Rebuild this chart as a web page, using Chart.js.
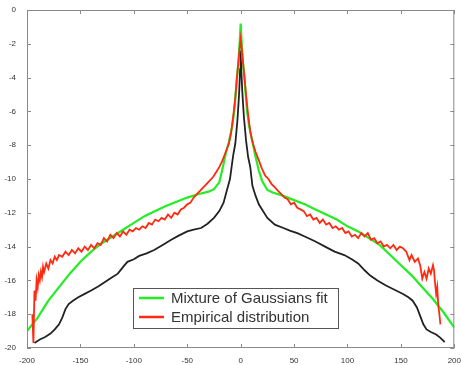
<!DOCTYPE html>
<html lang="en">
<head>
   <meta charset="UTF-8">
   <title>Mixture of Gaussians fit</title>
   <script src="https://cdn.jsdelivr.net/npm/chart.js"></script>
   <style>
      body { margin: 0; background: #fff; }
   </style>
</head>
<body>
   <canvas id="distChart" width="461" height="365"></canvas>

   <script>
      // axis ticks
      const xTicks = [-200, -150, -100, -50, 0, 50, 100, 150, 200];
      const yTicks = [0, -2, -4, -6, -8, -10, -12, -14, -16, -18, -20];

      // Mixture of Gaussians fit (green)
      const fitX = [-200, -190, -180, -170, -160, -150, -140, -130, -120, -110, -100, -90, -80, -70, -60, -50, -40, -30, -25, -20, -17, -14, -11, -8, -6, -4, -2, -1, 0,
                    1, 2, 4, 6, 8, 11, 14, 17, 20, 25, 30, 40, 50, 60, 70, 80, 90, 100, 110, 120, 130, 140, 150, 160, 170, 180, 190, 200];
      const fitY = [-19.0, -18.2, -17.2, -16.4, -15.6, -14.9, -14.3, -13.8, -13.4, -13.0, -12.6, -12.2, -11.9, -11.6, -11.35, -11.1, -10.9, -10.75, -10.6, -10.2, -9.4, -8.5, -7.8, -6.9, -6.0, -4.4, -3.0, -2.0, -0.8,
                    -2.0, -3.0, -4.4, -6.0, -6.9, -7.8, -8.7, -9.5, -10.1, -10.65, -10.8, -11.0, -11.25, -11.5, -11.8, -12.1, -12.4, -12.8, -13.1, -13.5, -13.9, -14.5, -15.1, -15.7, -16.4, -17.1, -17.9, -18.8];

      // Empirical distribution (red)
      const empX = [-195, -194, -193, -192, -191, -190, -189, -188, -187, -186, -185, -184, -182, -180, -178, -176, -174, -172, -170, -167, -164, -161, -158, -155, -152, -149, -146, -143, -140, -137, -134, -131, -128, -125, -122, -119, -116, -113, -110, -107, -104, -101, -98, -95, -92, -89, -86, -83, -80, -77, -74, -71, -68, -65, -62, -59, -56, -53, -50, -47, -44, -41, -38, -35, -32, -29, -26, -23, -20, -17, -14, -11, -9, -7, -5, -3.5, -2, -1, 0,
                    1, 2, 3.5, 5, 7, 9, 11, 14, 17, 20, 23, 26, 29, 32, 35, 38, 41, 44, 47, 50, 53, 56, 59, 62, 65, 68, 71, 74, 77, 80, 83, 86, 89, 92, 95, 98, 101, 104, 107, 110, 113, 116, 119, 122, 125, 128, 131, 134, 137, 140, 143, 146, 149, 152, 155, 158, 160, 163, 166, 168, 170, 172, 174, 176, 178, 180, 181, 182, 183, 184, 185, 186, 187];
      const empY = [-18.0, -19.7, -16.6, -17.2, -16.0, -16.4, -15.7, -16.0, -15.5, -15.8, -15.2, -15.5, -15.0, -15.3, -14.8, -15.0, -14.6, -14.8, -14.5, -14.6, -14.3, -14.5, -14.2, -14.4, -14.1, -14.3, -14.0, -14.2, -13.9, -14.1, -13.8, -13.9, -13.5, -13.7, -13.3, -13.5, -13.2, -13.4, -13.1, -13.3, -13.0, -13.1, -12.9, -13.0, -12.8, -12.9, -12.6, -12.7, -12.4, -12.5, -12.3, -12.4, -12.1, -12.3, -12.0, -12.1, -11.8, -11.7, -11.5, -11.4, -11.1, -10.9, -10.7, -10.5, -10.3, -10.1, -9.9, -9.6, -9.3, -8.9, -8.4, -7.9, -7.3, -6.3, -5.2, -4.0, -3.0, -2.3, -1.7,
                    -2.3, -3.0, -3.9, -5.0, -6.2, -7.2, -7.8, -8.4, -8.9, -9.4, -9.8, -10.0, -10.3, -10.5, -10.7, -10.9, -11.1, -11.2, -11.5, -11.4, -11.7, -11.8, -11.9, -12.2, -12.1, -12.4, -12.3, -12.6, -12.4, -12.7, -12.6, -12.9, -12.8, -13.0, -12.9, -13.2, -13.1, -13.4, -13.3, -13.5, -13.2, -13.4, -13.2, -13.6, -13.5, -13.8, -13.7, -14.0, -13.9, -14.1, -13.9, -14.2, -14.0, -14.1, -14.3, -14.8, -14.5, -14.9, -14.7, -15.1, -15.9, -15.5, -15.9, -15.3, -15.6, -15.1, -15.4, -16.2, -16.8, -16.4, -17.5, -18.0, -18.6];

      // third curve (black, not in legend)
      const blackX = [-193, -188, -183, -178, -174, -170, -167, -164, -161, -157, -152, -146, -140, -133, -127, -121, -115, -110, -106, -100, -95, -88, -81, -73, -65, -58, -50, -44, -37, -31, -25, -20, -16, -13, -10, -8.5, -7, -5, -3, -1.5, -0.5, 0,
                      0.5, 1.5, 3, 5, 7, 9, 11, 14, 17, 20, 25, 32, 40, 46, 53, 60, 70, 79, 88, 97, 104, 110, 116, 121, 128, 136, 144, 152, 157, 161, 165, 168, 171, 174, 178, 183, 187, 191];
      const blackY = [-19.7, -19.5, -19.35, -19.15, -18.9, -18.6, -18.2, -17.7, -17.4, -17.2, -17.0, -16.8, -16.6, -16.35, -16.1, -15.85, -15.6, -15.2, -14.9, -14.75, -14.55, -14.4, -14.2, -13.9, -13.6, -13.35, -13.1, -13.0, -12.9, -12.65, -12.3, -11.9, -11.4, -10.7, -10.0, -9.3, -8.6, -7.9, -6.5, -5.0, -3.5, -2.4,
                      -3.4, -4.8, -6.3, -7.7, -8.7, -9.3, -10.4, -11.0, -11.5, -11.8, -12.3, -12.7, -12.9, -13.05, -13.2, -13.4, -13.7, -14.0, -14.3, -14.5, -14.75, -15.0, -15.4, -15.7, -16.0, -16.3, -16.55, -16.8, -17.0, -17.2, -17.6, -18.1, -18.6, -18.9, -19.05, -19.2, -19.4, -19.65];

      const toPoints = (xs, ys) => xs.map((x, i) => ({ x: x, y: ys[i] }));

      // box round the plot, inward ticks on all four sides, legend inside
      const framePlugin = {
         id: 'frame',
         afterDraw(chart) {
            const { ctx, chartArea: a, scales } = chart;
            ctx.save();
            ctx.strokeStyle = '#8a8a8a';
            ctx.lineWidth = 1;
            ctx.strokeRect(a.left + 0.5, a.top + 0.5, a.right - a.left - 1, a.bottom - a.top - 1);
            ctx.beginPath();
            xTicks.forEach(v => {
               const px = Math.round(scales.x.getPixelForValue(v)) + 0.5;
               ctx.moveTo(px, a.bottom); ctx.lineTo(px, a.bottom - 4);
               ctx.moveTo(px, a.top); ctx.lineTo(px, a.top + 4);
            });
            yTicks.forEach(v => {
               const py = Math.round(scales.y.getPixelForValue(v)) + 0.5;
               ctx.moveTo(a.left, py); ctx.lineTo(a.left + 4, py);
               ctx.moveTo(a.right, py); ctx.lineTo(a.right - 4, py);
            });
            ctx.stroke();

            // legend: fit first, then empirical
            const lx = 133, ly = 288, lw = 205, lh = 40;
            ctx.fillStyle = '#fff';
            ctx.fillRect(lx, ly, lw, lh);
            ctx.strokeStyle = '#555';
            ctx.strokeRect(lx + 0.5, ly + 0.5, lw, lh);
            ctx.font = '15px "Liberation Sans", Arial, sans-serif';
            ctx.textBaseline = 'middle';
            const items = chart.data.datasets.filter(d => d.legendRank > 0)
               .sort((p, q) => p.legendRank - q.legendRank);
            items.forEach((d, i) => {
               const y = ly + 10 + i * 19;
               ctx.strokeStyle = d.borderColor;
               ctx.lineWidth = 2.5;
               ctx.beginPath();
               ctx.moveTo(lx + 6, y); ctx.lineTo(lx + 31, y);
               ctx.stroke();
               ctx.fillStyle = '#333';
               ctx.fillText(d.label, lx + 38, y + 1);
            });
            ctx.restore();
         }
      };

      new Chart(document.getElementById('distChart'), {
         type: 'line',
         data: {
            datasets: [
               {
                  label: 'Empirical distribution',
                  data: toPoints(empX, empY),
                  borderColor: '#ff2a10',
                  borderWidth: 1.8,
                  legendRank: 2,
                  order: 0
               },
               {
                  label: 'Mixture of Gaussians fit',
                  data: toPoints(fitX, fitY),
                  borderColor: '#22ee22',
                  borderWidth: 2.2,
                  legendRank: 1,
                  order: 1
               },
               {
                  label: 'black',
                  data: toPoints(blackX, blackY),
                  borderColor: '#222',
                  borderWidth: 1.8,
                  legendRank: 0,
                  order: 2
               }
            ]
         },
         options: {
            responsive: false,
            animation: false,
            elements: { point: { radius: 0 }, line: { tension: 0 } },
            layout: { padding: { top: 10, right: 4, left: 0, bottom: 0 } },
            plugins: { legend: { display: false }, tooltip: { enabled: false } },
            scales: {
               x: {
                  type: 'linear',
                  min: -200, max: 200,
                  afterBuildTicks: s => { s.ticks = xTicks.map(v => ({ value: v })); },
                  afterFit: s => { s.height = 17; },
                  grid: { display: false },
                  border: { display: false },
                  ticks: { font: { size: 8, family: 'Liberation Sans' }, color: '#333', padding: 0, maxRotation: 0 }
               },
               y: {
                  type: 'linear',
                  min: -20, max: 0,
                  afterBuildTicks: s => { s.ticks = yTicks.map(v => ({ value: v })); },
                  afterFit: s => { s.width = 27; },
                  grid: { display: false },
                  border: { display: false },
                  ticks: { font: { size: 8, family: 'Liberation Sans' }, color: '#333', padding: 3 }
               }
            }
         },
         plugins: [framePlugin]
      });
   </script>
</body>
</html>
